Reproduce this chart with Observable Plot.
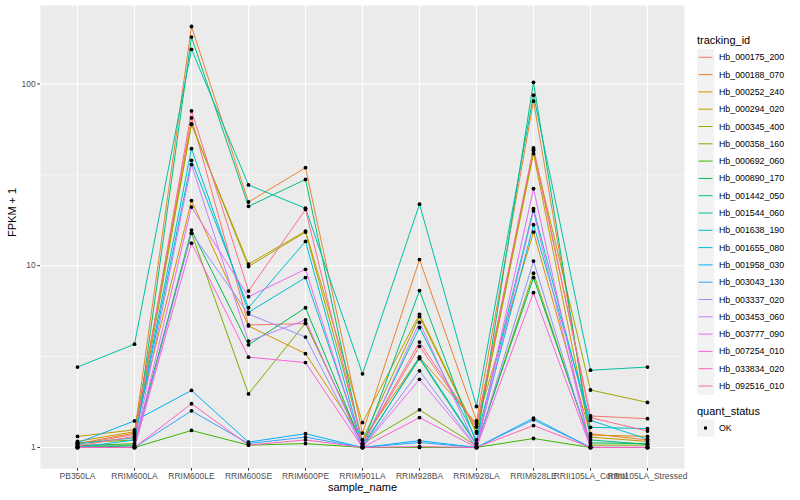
<!DOCTYPE html>
<html>
<head>
<meta charset="utf-8">
<script src="https://cdn.jsdelivr.net/npm/d3@7"></script>
<script src="https://cdn.jsdelivr.net/npm/@observablehq/plot@0.6"></script>
<style>
  body { margin: 0; background: white; font-family: "Liberation Sans", Arial, sans-serif; }
  #wrap { position: relative; width: 800px; height: 500px; }
  #legend { position: absolute; left: 0; top: 0; }
</style>
</head>
<body>
<div id="wrap"></div>
<script>
const samples = ["PB350LA","RRIM600LA","RRIM600LE","RRIM600SE","RRIM600PE","RRIM901LA","RRIM928BA","RRIM928LA","RRIM928LE","RRII105LA_Control","RRII105LA_Stressed"];
const trackingIds = ["Hb_000175_200","Hb_000188_070","Hb_000252_240","Hb_000294_020","Hb_000345_400","Hb_000358_160","Hb_000692_060","Hb_000890_170","Hb_001442_050","Hb_001544_060","Hb_001638_190","Hb_001655_080","Hb_001958_030","Hb_003043_130","Hb_003337_020","Hb_003453_060","Hb_003777_090","Hb_007254_010","Hb_033834_020","Hb_092516_010"];
const colors = ["#F8766D","#EA8331","#D89000","#C09B00","#A3A500","#7CAE00","#39B600","#00BB4E","#00BF7D","#00C1A3","#00BFC4","#00BAE0","#00B0F6","#35A2FF","#9590FF","#C77CFF","#E76BF3","#FA62DB","#FF62BC","#FF6C91"];
const yTicks = [1, 10, 100];
const yMinor = [3.162, 31.62];

// FPKM + 1 per sample (order of samples)
const Hb_000175_200 = [1.04, 1.18, 65, 4.72, 4.80, 1.05, 3.6, 1.30, 43.6, 1.49, 1.44];
const Hb_000188_070 = [1.05, 1.20, 207, 22.4, 34.6, 1.20, 10.8, 1.40, 80.4, 1.19, 1.10];
const Hb_000252_240 = [1.08, 1.22, 22.8, 4.66, 3.28, 1.10, 3.14, 1.35, 15.3, 1.17, 1.15];
const Hb_000294_020 = [1.15, 1.25, 60, 10.2, 15.5, 1.37, 5.4, 1.22, 41.3, 1.14, 1.08];
const Hb_000345_400 = [1.06, 1.10, 60, 9.9, 15.3, 1.10, 5.25, 1.20, 43.0, 2.07, 1.77];
const Hb_000358_160 = [1.02, 1.05, 15.1, 1.97, 4.84, 1.05, 1.61, 1.02, 9.1, 1.03, 1.03];
const Hb_000692_060 = [1.01, 1.00, 1.24, 1.03, 1.05, 1.00, 1.00, 1.00, 1.12, 1.00, 1.00];
const Hb_000890_170 = [1.03, 1.03, 15.7, 3.67, 5.87, 1.02, 3.08, 1.03, 8.6, 1.06, 1.05];
const Hb_001442_050 = [1.00, 1.02, 181, 21.2, 29.8, 1.02, 7.3, 1.05, 102, 1.10, 1.04];
const Hb_001544_060 = [2.77, 3.70, 155, 27.8, 20.7, 2.54, 21.8, 1.68, 86.7, 2.66, 2.77];
const Hb_001638_190 = [1.05, 1.13, 44, 5.54, 8.6, 1.03, 4.57, 1.10, 20.6, 1.29, 1.27];
const Hb_001655_080 = [1.00, 1.10, 38, 5.87, 13.6, 1.00, 3.14, 1.05, 16.8, 1.41, 1.11];
const Hb_001958_030 = [1.06, 1.40, 2.06, 1.07, 1.19, 1.00, 1.09, 1.00, 1.45, 1.00, 1.00];
const Hb_003043_130 = [1.00, 1.00, 1.59, 1.05, 1.14, 1.00, 1.065, 1.00, 1.42, 1.00, 1.00];
const Hb_003337_020 = [1.00, 1.00, 15.1, 5.42, 4.05, 1.00, 2.64, 1.00, 10.6, 1.00, 1.00];
const Hb_003453_060 = [1.00, 1.00, 36, 3.84, 5.03, 1.00, 4.88, 1.00, 20.0, 1.00, 1.00];
const Hb_003777_090 = [1.00, 1.00, 21, 6.75, 9.55, 1.00, 2.37, 1.00, 26.5, 1.00, 1.00];
const Hb_007254_010 = [1.00, 1.00, 13.3, 3.14, 2.93, 1.00, 1.46, 1.00, 7.1, 1.00, 1.00];
const Hb_033834_020 = [1.00, 1.00, 1.74, 1.03, 1.10, 1.00, 1.01, 1.00, 1.32, 1.00, 1.00];
const Hb_092516_010 = [1.02, 1.15, 71, 7.25, 20.4, 1.05, 3.8, 1.30, 44.5, 1.46, 1.23];

const seriesValues = [Hb_000175_200, Hb_000188_070, Hb_000252_240, Hb_000294_020, Hb_000345_400, Hb_000358_160, Hb_000692_060, Hb_000890_170, Hb_001442_050, Hb_001544_060, Hb_001638_190, Hb_001655_080, Hb_001958_030, Hb_003043_130, Hb_003337_020, Hb_003453_060, Hb_003777_090, Hb_007254_010, Hb_033834_020, Hb_092516_010];

const data = [];
trackingIds.forEach((id, i) => {
  seriesValues[i].forEach((v, j) => data.push({id, sample: samples[j], value: v}));
});

const font = "Liberation Sans, Arial, sans-serif";
const chart = Plot.plot({
  width: 800,
  height: 500,
  marginLeft: 40,
  marginRight: 116,
  marginTop: 5,
  marginBottom: 32,
  style: {fontFamily: font, background: "white", overflow: "visible"},
  x: {type: "point", domain: samples, padding: 0.6},
  y: {type: "log", domain: [0.766, 270]},
  color: {domain: trackingIds, range: colors},
  marks: [
    Plot.frame({fill: "#EBEBEB", stroke: "none"}),
    Plot.ruleY(yMinor, {stroke: "white", strokeWidth: 0.55}),
    Plot.ruleY(yTicks, {stroke: "white", strokeWidth: 1.1}),
    Plot.ruleX(samples, {stroke: "white", strokeWidth: 1.1}),
    Plot.line(data, {x: "sample", y: "value", z: "id", stroke: "id", strokeWidth: 1}),
    Plot.dot(data, {x: "sample", y: "value", r: 1.9, fill: "black", stroke: "none"}),
    Plot.axisX({label: null, tickSize: 2.7, tickPadding: 2, fontSize: 8.5, color: "#4D4D4D", stroke: "#333333"}),
    Plot.axisY({ticks: yTicks, tickFormat: d => String(d), label: null, tickSize: 2.7, tickPadding: 2, fontSize: 8.5, color: "#4D4D4D", stroke: "#333333"}),
    Plot.text(["sample_name"], {frameAnchor: "bottom", dy: 22, fontSize: 11, fill: "black"}),
    Plot.text(["FPKM + 1"], {frameAnchor: "left", dx: -28, rotate: -90, fontSize: 11, fill: "black"})
  ]
});
document.getElementById("wrap").appendChild(chart);

// Legend
const leg = d3.select("#wrap").append("svg")
  .attr("id", "legend").attr("width", 800).attr("height", 500)
  .style("font-family", font);
leg.append("text").attr("x", 697).attr("y", 44).attr("font-size", 11).text("tracking_id");
const step = 17.3, y0 = 57.3;
trackingIds.forEach((id, i) => {
  const cy = y0 + i * step;
  leg.append("rect").attr("x", 697).attr("y", cy - 8.6).attr("width", 17.3).attr("height", 17.3).attr("fill", "#F2F2F2");
  leg.append("line").attr("x1", 698.5).attr("x2", 712.5).attr("y1", cy).attr("y2", cy).attr("stroke", colors[i]).attr("stroke-width", 1);
  leg.append("text").attr("x", 719).attr("y", cy).attr("dy", "0.35em").attr("font-size", 8.8).text(id);
});
leg.append("text").attr("x", 697).attr("y", 415).attr("font-size", 11).text("quant_status");
leg.append("rect").attr("x", 697).attr("y", 428 - 8.6).attr("width", 17.3).attr("height", 17.3).attr("fill", "#F2F2F2");
leg.append("rect").attr("x", 704).attr("y", 426.5).attr("width", 3).attr("height", 3).attr("fill", "black");
leg.append("text").attr("x", 719).attr("y", 428).attr("dy", "0.35em").attr("font-size", 8.8).text("OK");
</script>
</body>
</html>
